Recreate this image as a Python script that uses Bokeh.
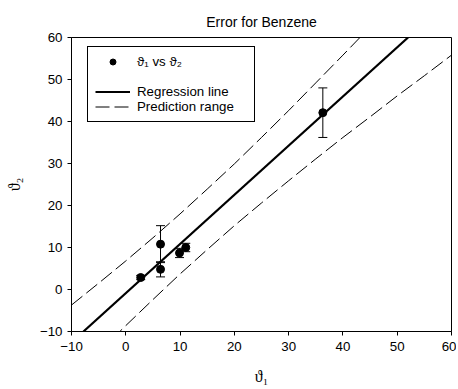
from bokeh.plotting import figure
from bokeh.models import (Range1d, ColumnDataSource, Whisker, TeeHead, Legend,
                          LegendItem, SingleIntervalTicker)
from bokeh.embed import file_html
from bokeh.resources import INLINE

# --- data ---
theta1 = [2.75, 6.4, 6.4, 9.9, 11.05, 36.3]
theta2 = [2.85, 10.8, 4.8, 8.7, 10.0, 42.1]
theta2_err = [0.5, 4.4, 1.8, 1.1, 1.0, 5.9]

reg_x = [-7.8, 52.0]
reg_y = [-10.0, 60.0]

upper_x = [-10, -5, 0, 5, 10, 15, 20, 25, 30, 35, 40, 45]
upper_y = [-3.7, 1.5, 6.8, 12.3, 18.0, 23.9, 29.9, 36.2, 42.6, 49.2, 55.8, 62.5]

lower_x = [-5, 0, 5, 10, 15, 20, 25, 30, 35, 40, 45, 50, 55, 60]
lower_y = [-15.0, -8.6, -2.4, 3.7, 9.5, 15.2, 20.6, 25.9, 31.1, 36.2, 41.1, 46.1, 50.9, 55.8]

title_text = "Error for Benzene"
x_label = "\u03d1\u2081"
y_label = "\u03d1\u2082"
legend_labels = ["\u03d1\u2081 vs \u03d1\u2082", "Regression line", "Prediction range"]

SANS = "Liberation Sans"
SERIF = "Liberation Serif"
FS = "13.3px"

p = figure(width=456, height=389, output_backend="svg", toolbar_location=None,
           x_range=Range1d(-10, 60), y_range=Range1d(-10, 60),
           min_border_left=71, min_border_right=5, min_border_top=37,
           min_border_bottom=58, background_fill_color="white",
           border_fill_color="white")

p.title.text = title_text
p.title.align = "center"
p.title.text_font = SANS
p.title.text_font_size = "14px"
p.title.text_font_style = "normal"
p.title.text_color = "black"
p.title.standoff = 15

p.xgrid.visible = False
p.ygrid.visible = False
p.outline_line_color = "black"
p.outline_line_alpha = 1.0
p.outline_line_width = 1

for ax in (p.xaxis[0], p.yaxis[0]):
    ax.ticker = SingleIntervalTicker(interval=10)
    ax.minor_tick_line_color = None
    ax.major_tick_in = 0
    ax.major_tick_out = 4
    ax.major_tick_line_color = "black"
    ax.axis_line_color = "black"
    ax.major_label_text_font = SANS
    ax.major_label_text_font_size = FS
    ax.major_label_text_color = "black"
    ax.axis_label_text_font = SERIF
    ax.axis_label_text_font_size = "16px"
    ax.axis_label_text_font_style = "normal"
    ax.axis_label_text_color = "black"

p.xaxis.axis_label = x_label
p.yaxis.axis_label = y_label
p.xaxis.major_label_standoff = 6
p.yaxis.major_label_standoff = 5
p.xaxis.axis_label_standoff = 14
p.yaxis.axis_label_standoff = 14

src = ColumnDataSource(dict(x=theta1, y=theta2,
                            upper=[a + b for a, b in zip(theta2, theta2_err)],
                            lower=[a - b for a, b in zip(theta2, theta2_err)]))

wh = Whisker(base="x", upper="upper", lower="lower", source=src, dimension="height",
             line_color="black", line_width=1,
             upper_head=TeeHead(size=9, line_color="black", line_width=1),
             lower_head=TeeHead(size=9, line_color="black", line_width=1))
p.add_layout(wh)

dash = "14 5"
r_up = p.line(upper_x, upper_y, line_color="black", line_width=1, line_dash=dash)
r_lo = p.line(lower_x, lower_y, line_color="black", line_width=1, line_dash=dash)
r_reg = p.line(reg_x, reg_y, line_color="black", line_width=2.2)
r_pts = p.scatter("x", "y", source=src, marker="circle", size=8,
                  fill_color="black", line_color="black")
r_blank = p.line([], [], line_alpha=0)

legend = Legend(items=[LegendItem(label=legend_labels[0], renderers=[r_pts]),
                       LegendItem(label=" ", renderers=[r_blank]),
                       LegendItem(label=legend_labels[1], renderers=[r_reg]),
                       LegendItem(label=legend_labels[2], renderers=[r_up])],
                location=(16, 209), orientation="vertical",
                border_line_color="black", border_line_width=1, border_line_alpha=1,
                background_fill_color="white", background_fill_alpha=1,
                label_text_font=SANS, label_text_font_size=FS,
                label_text_color="black",
                glyph_width=35, glyph_height=15, label_height=15,
                label_standoff=7, label_width=110, padding=7, spacing=0, margin=0)
p.add_layout(legend, "center")

open("out.html", "w").write(file_html(p, INLINE))
